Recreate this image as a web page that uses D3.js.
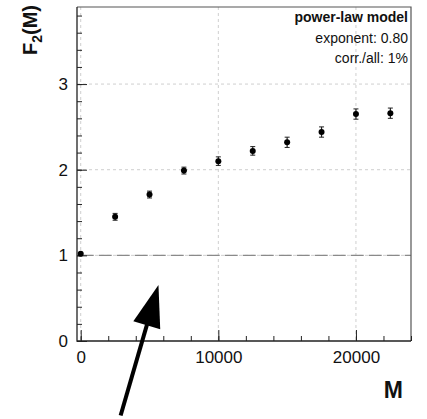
<!DOCTYPE html>
<html>
<head>
<meta charset="utf-8">
<script src="https://cdn.jsdelivr.net/npm/d3@7"></script>
<style>
  html, body { margin: 0; padding: 0; background: #fff; }
  svg { display: block; }
  text { font-family: "Liberation Sans", Arial, Helvetica, sans-serif; }
</style>
</head>
<body>
<svg id="chart" width="427" height="419"></svg>
<script>
// Multiplicity bins M and the measured F2(M) with uncertainties
const mValues   = [0, 2500, 5000, 7500, 10000, 12500, 15000, 17500, 20000, 22500];
const f2Values  = [1.02, 1.45, 1.71, 1.99, 2.10, 2.22, 2.32, 2.44, 2.65, 2.66];
const f2Errors  = [0, 0.04, 0.04, 0.04, 0.05, 0.05, 0.06, 0.06, 0.06, 0.06];

const xMajorTicks = [0, 10000, 20000];
const yMajorTicks = [0, 1, 2, 3];
const referenceLevel = 1;

const legendLines = ["power-law model", "exponent: 0.80", "corr./all: 1%"];

// Annotation arrow, in data units (tail -> tip)
const arrowTail = [2900, -0.87];
const arrowTip  = [5650, 0.655];

const svg = d3.select("#chart");
const frame = { left: 77, right: 411, top: 7, bottom: 341 };

const x = d3.scaleLinear().domain([-270, 24000]).range([frame.left, frame.right]);
const y = d3.scaleLinear().domain([0, 3.9]).range([frame.bottom, frame.top]);

// grid
const grid = svg.append("g").attr("stroke", "#cfcfcf").attr("stroke-dasharray", "3,3").attr("stroke-width", 1);
grid.selectAll("line.gx").data(xMajorTicks).join("line")
  .attr("x1", d => x(d)).attr("x2", d => x(d))
  .attr("y1", frame.top).attr("y2", frame.bottom);
grid.selectAll("line.gy").data(yMajorTicks.filter(d => d > 0)).join("line")
  .attr("x1", frame.left).attr("x2", frame.right)
  .attr("y1", d => y(d)).attr("y2", d => y(d));

// reference line at F2 = 1
svg.append("line")
  .attr("x1", x(0)).attr("x2", frame.right)
  .attr("y1", y(referenceLevel)).attr("y2", y(referenceLevel))
  .attr("stroke", "#8a8a8a").attr("stroke-width", 1.2)
  .attr("stroke-dasharray", "13,5");

// frame (top & right)
svg.append("path")
  .attr("d", `M${frame.left},${frame.top}H${frame.right}V${frame.bottom}`)
  .attr("fill", "none").attr("stroke", "#555").attr("stroke-width", 1.2);

// axes with inward ticks
const xMinor = d3.range(0, 24001, 2000);
const yMinor = d3.range(0, 3.81, 0.2);

const xAxisMinor = d3.axisBottom(x).tickValues(xMinor).tickSize(-5).tickFormat("");
const xAxis = d3.axisBottom(x).tickValues(xMajorTicks).tickSize(-11).tickPadding(10).tickFormat(d3.format("d"));
const yAxisMinor = d3.axisLeft(y).tickValues(yMinor).tickSize(-5).tickFormat("");
const yAxis = d3.axisLeft(y).tickValues(yMajorTicks).tickSize(-10).tickPadding(9).tickFormat(d3.format("d"));

function styleAxis(g) {
  g.select(".domain").remove();
  g.selectAll(".tick line").attr("stroke", "#222").attr("stroke-width", 1);
  g.selectAll("text").attr("font-size", 17).attr("fill", "#111")
    .attr("font-family", "Liberation Sans, Arial, sans-serif");
}

svg.append("g").attr("transform", `translate(0,${frame.bottom})`).call(xAxisMinor).call(styleAxis);
svg.append("g").attr("transform", `translate(0,${frame.bottom})`).call(xAxis).call(styleAxis);
svg.append("g").attr("transform", `translate(${frame.left},0)`).call(yAxisMinor).call(styleAxis);
svg.append("g").attr("transform", `translate(${frame.left},0)`).call(yAxis).call(styleAxis);

// axis lines
svg.append("path")
  .attr("d", `M${frame.left},${frame.top}V${frame.bottom}H${frame.right}`)
  .attr("fill", "none").attr("stroke", "#222").attr("stroke-width", 1.3);

// data points with error bars
const pts = mValues.map((m, i) => ({ m, v: f2Values[i], e: f2Errors[i] }));
const pg = svg.append("g");
const bars = pts.filter(d => d.e > 0);
pg.selectAll("line.err").data(bars).join("line")
  .attr("x1", d => x(d.m)).attr("x2", d => x(d.m))
  .attr("y1", d => y(d.v - d.e)).attr("y2", d => y(d.v + d.e))
  .attr("stroke", "#222").attr("stroke-width", 1.2);
[-1, 1].forEach(s => {
  pg.selectAll(null).data(bars).join("line")
    .attr("x1", d => x(d.m) - 2.5).attr("x2", d => x(d.m) + 2.5)
    .attr("y1", d => y(d.v + s * d.e)).attr("y2", d => y(d.v + s * d.e))
    .attr("stroke", "#222").attr("stroke-width", 1);
});
pg.selectAll("circle").data(pts).join("circle")
  .attr("cx", d => x(d.m)).attr("cy", d => y(d.v))
  .attr("r", 3).attr("fill", "#000");

// legend text
svg.selectAll("text.leg").data(legendLines).join("text")
  .attr("class", "leg")
  .attr("x", 408).attr("y", (d, i) => 22 + i * 20.5)
  .attr("text-anchor", "end")
  .attr("font-size", 14)
  .attr("font-weight", (d, i) => i === 0 ? "bold" : "normal")
  .attr("fill", "#111")
  .text(d => d);

// axis titles
const yt = svg.append("text")
  .attr("transform", "translate(37,5) rotate(-90)")
  .attr("text-anchor", "end")
  .attr("font-size", 20).attr("font-weight", "bold").attr("fill", "#111");
yt.append("tspan").text("F");
yt.append("tspan").attr("font-size", 14).attr("dy", 5).text("2");
yt.append("tspan").attr("dy", -5).text("(M)");

svg.append("text")
  .attr("x", 403).attr("y", 398)
  .attr("text-anchor", "end")
  .attr("font-size", 23).attr("font-weight", "bold").attr("fill", "#111")
  .text("M");

// annotation arrow
const tail = [x(arrowTail[0]), y(arrowTail[1])];
const tip = [x(arrowTip[0]), y(arrowTip[1])];
const dx = tip[0] - tail[0], dy = tip[1] - tail[1];
const len = Math.hypot(dx, dy);
const ux = dx / len, uy = dy / len;
const headLen = 42, headHalf = 14;
const base = [tip[0] - ux * headLen, tip[1] - uy * headLen];
svg.append("line")
  .attr("x1", tail[0]).attr("y1", tail[1])
  .attr("x2", base[0] + ux * 2).attr("y2", base[1] + uy * 2)
  .attr("stroke", "#000").attr("stroke-width", 4);
svg.append("path")
  .attr("d", `M${tip[0]},${tip[1]}L${base[0] - uy * headHalf},${base[1] + ux * headHalf}L${base[0] + uy * headHalf},${base[1] - ux * headHalf}Z`)
  .attr("fill", "#000");
</script>
</body>
</html>
